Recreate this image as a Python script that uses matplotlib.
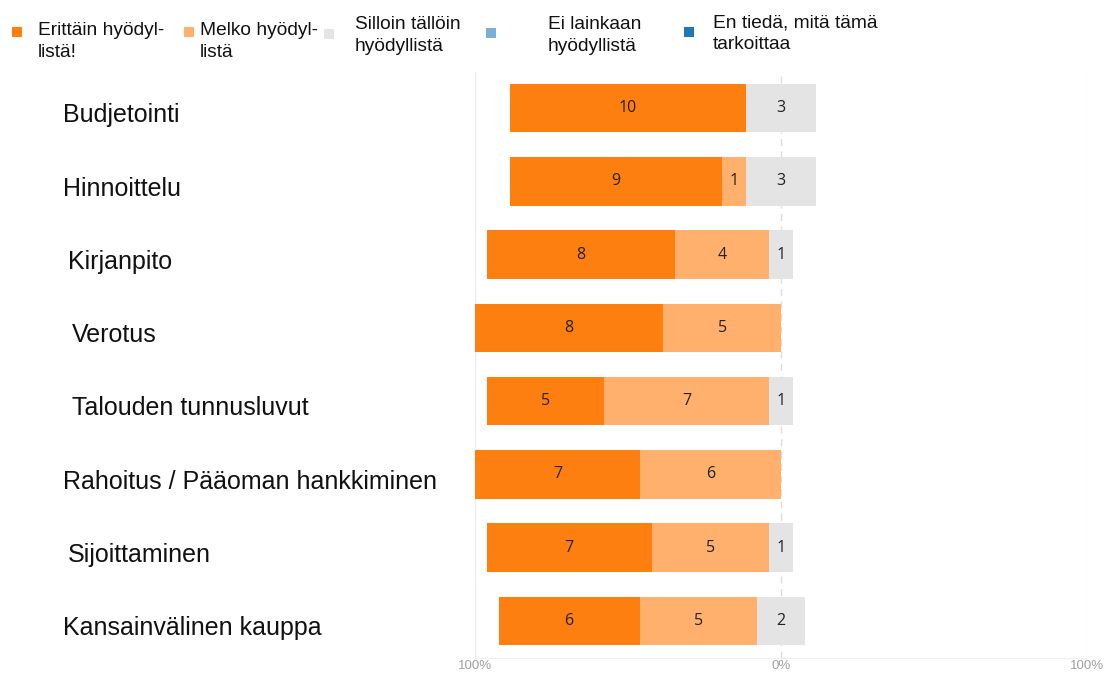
"""Diverging stacked bar chart of how useful survey respondents find each topic."""

import matplotlib

matplotlib.use("Agg")
import matplotlib.pyplot as plt  # noqa: E402
import matplotlib.transforms as mtransforms  # noqa: E402
from matplotlib.patches import Rectangle  # noqa: E402
import numpy as np  # noqa: E402

CATEGORIES = [
    "Budjetointi",
    "Hinnoittelu",
    "Kirjanpito",
    "Verotus",
    "Talouden tunnusluvut",
    "Rahoitus / Pääoman hankkiminen",
    "Sijoittaminen",
    "Kansainvälinen kauppa",
]
ERITTAIN = [10, 9, 8, 8, 5, 7, 7, 6]
MELKO = [0, 1, 4, 5, 7, 6, 5, 5]
SILLOIN = [3, 3, 1, 0, 1, 0, 1, 2]
EI_LAINKAAN = [0, 0, 0, 0, 0, 0, 0, 0]
EN_TIEDA = [0, 0, 0, 0, 0, 0, 0, 0]

LEGEND_LABELS = [
    "Erittäin hyödyl-\nlistä!",
    "Melko hyödyl-\nlistä",
    "Silloin tällöin\nhyödyllistä",
    "Ei lainkaan\nhyödyllistä",
    "En tiedä, mitä tämä\ntarkoittaa",
]
X_TICKS = [-100, 0, 100]
X_TICK_LABELS = ["100%", "0%", "100%"]

COLORS = ["#fd7f0f", "#ffb06d", "#e4e4e4", "#7bb0d8", "#1f77b4"]
LABEL_FONT = "Liberation Sans"

W, H = 1113, 677
fig = plt.figure(figsize=(W / 100, H / 100), dpi=100)
ax = fig.add_axes([475 / W, 1 - 657.5 / H, (1087 - 475) / W, (657.5 - 71.5) / H])

series = np.array([ERITTAIN, MELKO, SILLOIN, EI_LAINKAAN, EN_TIEDA], dtype=float)
totals = series.sum(axis=0)
pct = series / totals * 100
y = np.arange(len(CATEGORIES))

# left edge: everything positive plus half of the neutral answers sits left of zero
left = -(pct[0] + pct[1] + pct[2] / 2)
for i in range(len(series)):
    ax.barh(y, pct[i], left=left, height=0.66, color=COLORS[i], linewidth=0, zorder=2)
    for yy, lft, w, n in zip(y, left, pct[i], series[i]):
        if n > 0:
            ax.text(lft + w / 2, yy, f"{int(n)}", ha="center", va="center",
                    fontsize=11.5, color="#222222", family="Open Sans", zorder=3)
    left = left + pct[i]

ax.set_xlim(-100, 100)
ax.set_ylim(len(CATEGORIES) - 0.5, -0.5)
for xv in (-100, 100):
    ax.axvline(xv, color="#ececec", lw=1, zorder=1)
ax.axvline(0, color="#dddddd", lw=1, ls=(0, (5, 4)), zorder=1)

for side in ("top", "right", "left"):
    ax.spines[side].set_visible(False)
ax.spines["bottom"].set_color("#eeeeee")
ax.set_yticks([])
ax.set_xticks(X_TICKS)
ax.set_xticklabels(X_TICK_LABELS, color="#a0a0a0", fontsize=9.5, family="Liberation Sans")
ax.tick_params(axis="x", length=0, pad=2)

# category names sit far to the left of the plot area, slightly ragged as in the source
label_x = [63, 63, 68, 72, 72, 63, 68, 63]
trans = mtransforms.blended_transform_factory(fig.transFigure, ax.transData)
for yy, lx, name in zip(y, label_x, CATEGORIES):
    ax.text(lx / W, yy + 0.1, name, transform=trans, ha="left", va="center",
            fontsize=18, family=LABEL_FONT, color="#111111")

# legend drawn by hand: square marker next to the first line of a two-line label
marker_x = [12, 184, 324, 486, 684]
marker_y = [37, 37, 39, 38, 37]
text_x = [38, 200, 355, 548, 713]
text_top = [22, 22, 16, 16, 14]
for mx, my, tx, tt, label, color in zip(marker_x, marker_y, text_x, text_top,
                                        LEGEND_LABELS, COLORS):
    fig.add_artist(Rectangle((mx / W, 1 - my / H), 10 / W, 10 / H,
                             transform=fig.transFigure, color=color, lw=0))
    fig.text(tx / W, 1 - tt / H, label, ha="left", va="top", fontsize=13.8,
             family=LABEL_FONT, color="#111111", linespacing=1.4)

fig.savefig("out.png", dpi=100)
